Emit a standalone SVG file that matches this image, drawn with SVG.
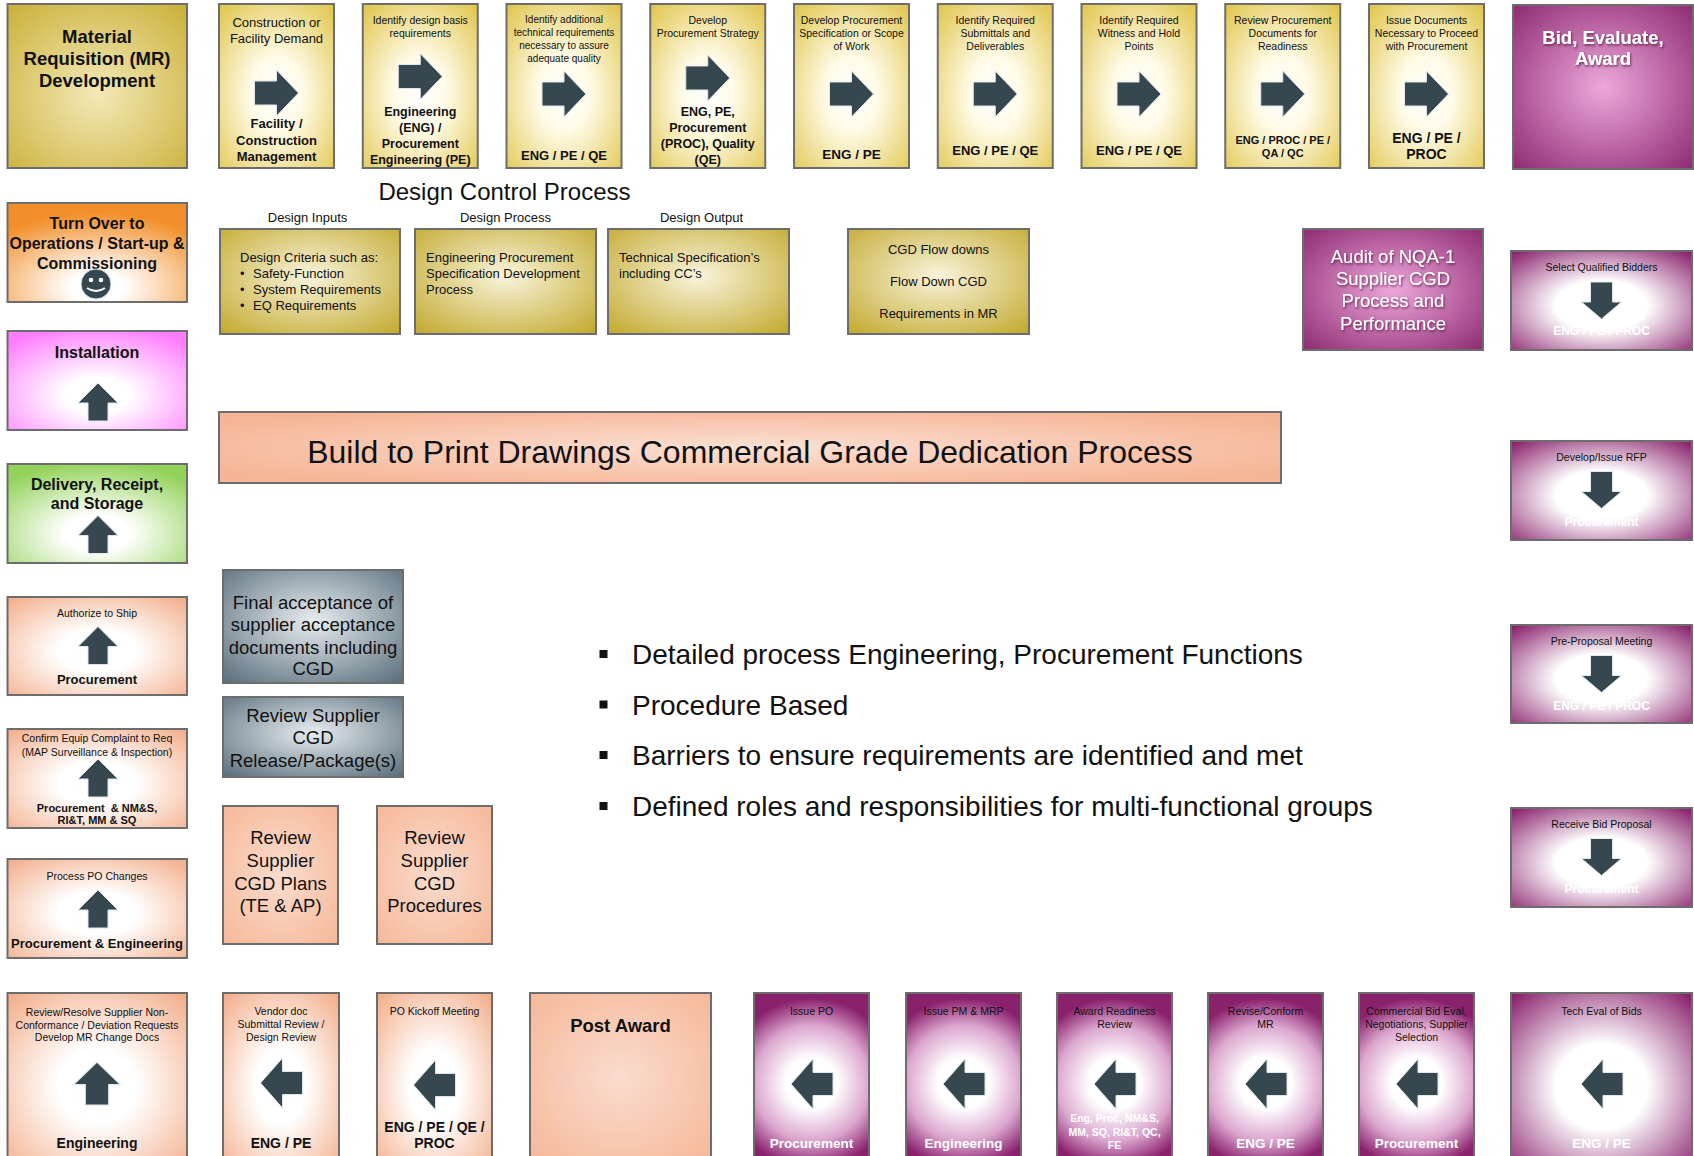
<svg xmlns="http://www.w3.org/2000/svg" xmlns:xlink="http://www.w3.org/1999/xlink" width="1694" height="1156" viewBox="0 0 1694 1156">
<defs>
<style>
text{font-family:'Liberation Sans',Arial,sans-serif;fill:#111;text-anchor:middle}
.s{font-size:10.5px}
.m{font-size:13px}
.b{font-weight:bold}
.w{fill:#fff}
.box{stroke:#6d6d6d;stroke-width:2}
.arr{fill:#37474F;stroke:#dfe7ec;stroke-width:1}
.big{font-size:18.5px}
.l{text-anchor:start}
</style>
<radialGradient id="gY" cx="0.5" cy="0.55" r="0.75"><stop offset="0" stop-color="#ffffff"/><stop offset="0.3" stop-color="#fffbe8"/><stop offset="1" stop-color="#dfc345"/></radialGradient>
<radialGradient id="gMR" cx="0.5" cy="0.55" r="0.72"><stop offset="0" stop-color="#f3e9b8"/><stop offset="1" stop-color="#cbb13a"/></radialGradient>
<radialGradient id="gG" cx="0.5" cy="0.45" r="0.72"><stop offset="0" stop-color="#f8f4dc"/><stop offset="1" stop-color="#c3aa30"/></radialGradient>
<radialGradient id="gP" cx="0.5" cy="0.55" r="0.72"><stop offset="0" stop-color="#ffffff"/><stop offset="0.35" stop-color="#ffffff"/><stop offset="1" stop-color="#8a216d"/></radialGradient>
<radialGradient id="gPT" cx="0.5" cy="0.53" r="0.74" gradientTransform="translate(0.5,0.53) scale(1,0.676) translate(-0.5,-0.53)"><stop offset="0" stop-color="#ffffff"/><stop offset="0.3" stop-color="#ffffff"/><stop offset="0.68" stop-color="#dba6ce"/><stop offset="1" stop-color="#8a216d"/></radialGradient>
<radialGradient id="gPB" cx="0.5" cy="0.5" r="0.72"><stop offset="0" stop-color="#eca8da"/><stop offset="1" stop-color="#8d2870"/></radialGradient>
<radialGradient id="gS" cx="0.5" cy="0.55" r="0.72"><stop offset="0" stop-color="#ffffff"/><stop offset="0.3" stop-color="#ffffff"/><stop offset="1" stop-color="#f3ae8b"/></radialGradient>
<radialGradient id="gSB" cx="0.5" cy="0.5" r="0.72"><stop offset="0" stop-color="#fadcce"/><stop offset="1" stop-color="#f6b797"/></radialGradient>
<radialGradient id="gBuild" cx="0.5" cy="0.5" r="0.6"><stop offset="0" stop-color="#fbe0d3"/><stop offset="1" stop-color="#f6b596"/></radialGradient>
<radialGradient id="gSl" cx="0.5" cy="0.45" r="0.75"><stop offset="0" stop-color="#e7edf0"/><stop offset="1" stop-color="#566a78"/></radialGradient>
<radialGradient id="gO" cx="0.5" cy="0.85" r="0.75"><stop offset="0" stop-color="#ffffff"/><stop offset="0.2" stop-color="#ffffff"/><stop offset="1" stop-color="#f28f2a"/></radialGradient>
<radialGradient id="gM" cx="0.5" cy="0.65" r="0.72"><stop offset="0" stop-color="#ffffff"/><stop offset="0.25" stop-color="#ffffff"/><stop offset="1" stop-color="#ff7cff"/></radialGradient>
<radialGradient id="gGr" cx="0.5" cy="0.7" r="0.72"><stop offset="0" stop-color="#ffffff"/><stop offset="0.25" stop-color="#ffffff"/><stop offset="1" stop-color="#93d25a"/></radialGradient>
<filter id="sh" x="-10%" y="-10%" width="120%" height="130%"><feDropShadow dx="1" dy="1.5" stdDeviation="0.8" flood-color="#3a0a2c" flood-opacity="0.7"/></filter>
<path id="arR" class="arr" d="M-22,-12 H0 V-23 L22,0 L0,23 V12 H-22 Z"/>
<path id="arL" class="arr" d="M21,-11.5 H1 V-25 L-21,0 L1,25 V11.5 H21 Z"/>
<path id="arU" class="arr" d="M-10,19 V1 H-20 L0,-19 L20,1 H10 V19 Z"/>
<path id="arD" class="arr" d="M-11,-18.5 H11 V1.5 H20 L0,18.5 L-20,1.5 H-11 Z"/>
</defs>
<rect width="1694" height="1156" fill="#ffffff"/>

<!-- Top row -->
<g id="mr-development">
<rect class="box" x="7.5" y="4" width="179.5" height="164" fill="url(#gMR)"/>
<text class="b" font-size="18.5" x="97" y="43">Material</text>
<text class="b" font-size="18.5" x="97" y="65">Requisition (MR)</text>
<text class="b" font-size="18.5" x="97" y="87">Development</text>
</g>
<g id="construction-demand">
<rect class="box" x="219" y="4" width="115" height="164" fill="url(#gY)"/>
<text class="m" x="276.5" y="26.5">Construction or</text>
<text class="m" x="276.5" y="42.5">Facility Demand</text>
<use href="#arR" x="276.5" y="93"/>
<text class="m b" x="276.5" y="127.5">Facility /</text>
<text class="m b" x="276.5" y="144.5">Construction</text>
<text class="m b" x="276.5" y="160.5">Management</text>
</g>
<g id="design-basis">
<rect class="box" x="362.75" y="4" width="115" height="164" fill="url(#gY)"/>
<text class="s" x="420.25" y="23.5">Identify design basis</text>
<text class="s" x="420.25" y="36.5">requirements</text>
<use href="#arR" x="420.25" y="76.5"/>
<text class="b" font-size="12.5" x="420.25" y="115.5">Engineering</text>
<text class="b" font-size="12.5" x="420.25" y="131.5">(ENG) /</text>
<text class="b" font-size="12.5" x="420.25" y="147.5">Procurement</text>
<text class="b" font-size="12.5" x="420.25" y="163.5">Engineering (PE)</text>
</g>
<g id="additional-requirements">
<rect class="box" x="506.5" y="4" width="115" height="164" fill="url(#gY)"/>
<text font-size="10" x="564" y="23">Identify additional</text>
<text font-size="10" x="564" y="36">technical requirements</text>
<text font-size="10" x="564" y="49">necessary to assure</text>
<text font-size="10" x="564" y="62">adequate quality</text>
<use href="#arR" x="564" y="94"/>
<text class="m b" x="564" y="159.5">ENG / PE / QE</text>
</g>
<g id="procurement-strategy">
<rect class="box" x="650.25" y="4" width="115" height="164" fill="url(#gY)"/>
<text class="s" x="707.75" y="23.5">Develop</text>
<text class="s" x="707.75" y="36.5">Procurement Strategy</text>
<use href="#arR" x="707.75" y="78"/>
<text class="b" font-size="12.5" x="707.75" y="115.5">ENG, PE,</text>
<text class="b" font-size="12.5" x="707.75" y="131.5">Procurement</text>
<text class="b" font-size="12.5" x="707.75" y="147.5">(PROC), Quality</text>
<text class="b" font-size="12.5" x="707.75" y="163.5">(QE)</text>
</g>
<g id="procurement-spec">
<rect class="box" x="794" y="4" width="115" height="164" fill="url(#gY)"/>
<text class="s" x="851.5" y="23.5">Develop Procurement</text>
<text class="s" x="851.5" y="36.5">Specification or Scope</text>
<text class="s" x="851.5" y="49.5">of Work</text>
<use href="#arR" x="851.5" y="94"/>
<text class="b" font-size="13.5" x="851.5" y="158.5">ENG / PE</text>
</g>
<g id="submittals">
<rect class="box" x="937.75" y="4" width="115" height="164" fill="url(#gY)"/>
<text class="s" x="995.25" y="23.5">Identify Required</text>
<text class="s" x="995.25" y="36.5">Submittals and</text>
<text class="s" x="995.25" y="49.5">Deliverables</text>
<use href="#arR" x="995.25" y="94"/>
<text class="m b" x="995.25" y="154.5">ENG / PE / QE</text>
</g>
<g id="witness-hold">
<rect class="box" x="1081.5" y="4" width="115" height="164" fill="url(#gY)"/>
<text class="s" x="1139" y="23.5">Identify Required</text>
<text class="s" x="1139" y="36.5">Witness and Hold</text>
<text class="s" x="1139" y="49.5">Points</text>
<use href="#arR" x="1139" y="94"/>
<text class="m b" x="1139" y="154.5">ENG / PE / QE</text>
</g>
<g id="review-readiness">
<rect class="box" x="1225.25" y="4" width="115" height="164" fill="url(#gY)"/>
<text class="s" x="1282.75" y="23.5">Review Procurement</text>
<text class="s" x="1282.75" y="36.5">Documents for</text>
<text class="s" x="1282.75" y="49.5">Readiness</text>
<use href="#arR" x="1282.75" y="94"/>
<text class="b" font-size="11" x="1282.75" y="144">ENG / PROC / PE /</text>
<text class="b" font-size="11" x="1282.75" y="157">QA / QC</text>
</g>
<g id="issue-documents">
<rect class="box" x="1369" y="4" width="115" height="164" fill="url(#gY)"/>
<text class="s" x="1426.5" y="23.5">Issue Documents</text>
<text class="s" x="1426.5" y="36.5">Necessary to Proceed</text>
<text class="s" x="1426.5" y="49.5">with Procurement</text>
<use href="#arR" x="1426.5" y="94"/>
<text class="b" font-size="14" x="1426.5" y="143">ENG / PE /</text>
<text class="b" font-size="14" x="1426.5" y="159">PROC</text>
</g>
<g id="bid-evaluate-award">
<rect class="box" x="1513" y="5" width="180" height="164" fill="url(#gPB)"/>
<text class="b w big" filter="url(#sh)" x="1603" y="44">Bid, Evaluate,</text>
<text class="b w big" filter="url(#sh)" x="1603" y="65">Award</text>
</g>

<!-- Design control -->
<g id="design-control-title">
<text font-size="24" x="504.5" y="200">Design Control Process</text>
<text font-size="13" x="307.5" y="222">Design Inputs</text>
<text font-size="13" x="505.5" y="222">Design Process</text>
<text font-size="13" x="701.5" y="222">Design Output</text>
</g>
<g id="design-inputs">
<rect class="box" x="220" y="229" width="180" height="105" fill="url(#gG)"/>
<text class="m l" x="240" y="262">Design Criteria such as:</text>
<text class="m l" x="240" y="278">•</text><text class="m l" x="253" y="278">Safety-Function</text>
<text class="m l" x="240" y="294">•</text><text class="m l" x="253" y="294">System Requirements</text>
<text class="m l" x="240" y="310">•</text><text class="m l" x="253" y="310">EQ Requirements</text>
</g>
<g id="design-process">
<rect class="box" x="415" y="229" width="181" height="105" fill="url(#gG)"/>
<text class="m l" x="426" y="262">Engineering Procurement</text>
<text class="m l" x="426" y="278">Specification Development</text>
<text class="m l" x="426" y="294">Process</text>
</g>
<g id="design-output">
<rect class="box" x="608" y="229" width="181" height="105" fill="url(#gG)"/>
<text class="m l" x="619" y="262">Technical Specification’s</text>
<text class="m l" x="619" y="278">including CC’s</text>
</g>
<g id="cgd-flowdowns">
<rect class="box" x="848" y="229" width="181" height="105" fill="url(#gG)"/>
<text class="m" x="938.5" y="253.5">CGD Flow downs</text>
<text class="m" x="938.5" y="285.5">Flow Down CGD</text>
<text class="m" x="938.5" y="317.5">Requirements in MR</text>
</g>
<g id="audit-nqa1">
<rect class="box" x="1303" y="229" width="180" height="121" fill="url(#gPB)"/>
<text class="w big" filter="url(#sh)" x="1393" y="263">Audit of NQA-1</text>
<text class="w big" filter="url(#sh)" x="1393" y="285">Supplier CGD</text>
<text class="w big" filter="url(#sh)" x="1393" y="307">Process and</text>
<text class="w big" filter="url(#sh)" x="1393" y="330">Performance</text>
</g>

<!-- Build banner -->
<g id="build-to-print">
<rect class="box" x="219" y="412" width="1062" height="71" fill="url(#gBuild)"/>
<text font-size="32" x="750" y="463">Build to Print Drawings Commercial Grade Dedication Process</text>
</g>

<!-- Bullets -->
<g id="bullets">
<rect x="599.5" y="650" width="8" height="8" fill="#111"/>
<text class="l" font-size="28" x="632" y="664">Detailed process Engineering, Procurement Functions</text>
<rect x="599.5" y="700.5" width="8" height="8" fill="#111"/>
<text class="l" font-size="28" x="632" y="714.5">Procedure Based</text>
<rect x="599.5" y="751" width="8" height="8" fill="#111"/>
<text class="l" font-size="28" x="632" y="765">Barriers to ensure requirements are identified and met</text>
<rect x="599.5" y="802" width="8" height="8" fill="#111"/>
<text class="l" font-size="28" x="632" y="816">Defined roles and responsibilities for multi-functional groups</text>
</g>

<!-- Left column -->
<g id="turn-over">
<rect class="box" x="7.5" y="203" width="179.5" height="99" fill="url(#gO)"/>
<text class="b" font-size="16" x="97" y="229">Turn Over to</text>
<text class="b" font-size="16" x="97" y="249">Operations / Start-up &amp;</text>
<text class="b" font-size="16" x="97" y="269">Commissioning</text>
<circle cx="96" cy="284" r="15" fill="#37474F" stroke="#dfe7ec" stroke-width="1"/>
<circle cx="91" cy="280" r="2.3" fill="#fff"/>
<circle cx="101" cy="280" r="2.3" fill="#fff"/>
<path d="M87,288 Q96,294 105,288" fill="none" stroke="#fff" stroke-width="2"/>
</g>
<g id="installation">
<rect class="box" x="7.5" y="331" width="179.5" height="99" fill="url(#gM)"/>
<text class="b" font-size="16" x="97" y="358">Installation</text>
<use href="#arU" x="98" y="402"/>
</g>
<g id="delivery-receipt">
<rect class="box" x="7.5" y="464" width="179.5" height="99" fill="url(#gGr)"/>
<text class="b" font-size="16" x="97" y="490">Delivery, Receipt,</text>
<text class="b" font-size="16" x="97" y="509">and Storage</text>
<use href="#arU" x="98" y="534.5"/>
</g>
<g id="authorize-ship">
<rect class="box" x="7.5" y="597" width="179.5" height="98" fill="url(#gS)"/>
<text class="s" x="97" y="617">Authorize to Ship</text>
<use href="#arU" x="98" y="645.5"/>
<text class="m b" x="97" y="683.5">Procurement</text>
</g>
<g id="confirm-equip">
<rect class="box" x="7.5" y="729" width="179.5" height="99" fill="url(#gS)"/>
<text class="s" x="97" y="742">Confirm Equip Complaint to Req</text>
<text class="s" x="97" y="756">(MAP Surveillance &amp; Inspection)</text>
<use href="#arU" x="98" y="778"/>
<text class="b" font-size="11" x="97" y="812" xml:space="preserve">Procurement  &amp; NM&amp;S,</text>
<text class="b" font-size="11" x="97" y="824">RI&amp;T, MM &amp; SQ</text>
</g>
<g id="process-po-changes">
<rect class="box" x="7.5" y="859" width="179.5" height="99" fill="url(#gS)"/>
<text class="s" x="97" y="880">Process PO Changes</text>
<use href="#arU" x="98" y="909"/>
<text class="m b" x="97" y="947.5">Procurement &amp; Engineering</text>
</g>

<!-- Middle review boxes -->
<g id="final-acceptance">
<rect class="box" x="223" y="570" width="180" height="113" fill="url(#gSl)"/>
<text class="big" x="313" y="609">Final acceptance of</text>
<text class="big" x="313" y="631">supplier acceptance</text>
<text class="big" x="313" y="654">documents including</text>
<text class="big" x="313" y="675">CGD</text>
</g>
<g id="review-release">
<rect class="box" x="223" y="697" width="180" height="80" fill="url(#gSl)"/>
<text class="big" x="313" y="722">Review Supplier</text>
<text class="big" x="313" y="744">CGD</text>
<text class="big" x="313" y="767">Release/Package(s)</text>
</g>
<g id="review-plans">
<rect class="box" x="223" y="806" width="115" height="138" fill="url(#gSB)"/>
<text class="big" x="280.5" y="844">Review</text>
<text class="big" x="280.5" y="867">Supplier</text>
<text class="big" x="280.5" y="890">CGD Plans</text>
<text class="big" x="280.5" y="912">(TE &amp; AP)</text>
</g>
<g id="review-procedures">
<rect class="box" x="377" y="806" width="115" height="138" fill="url(#gSB)"/>
<text class="big" x="434.5" y="844">Review</text>
<text class="big" x="434.5" y="867">Supplier</text>
<text class="big" x="434.5" y="890">CGD</text>
<text class="big" x="434.5" y="912">Procedures</text>
</g>

<!-- Right column -->
<g id="select-bidders">
<rect class="box" x="1511" y="251" width="181" height="99" fill="url(#gP)"/>
<text class="s" x="1601.5" y="271">Select Qualified Bidders</text>
<text class="w b" font-size="12" x="1601.5" y="335">ENG / PE / PROC</text>
<use href="#arD" x="1601.5" y="300.5"/>
</g>
<g id="issue-rfp">
<rect class="box" x="1511" y="441" width="181" height="99" fill="url(#gP)"/>
<text class="s" x="1601.5" y="461">Develop/Issue RFP</text>
<text class="w b" font-size="12" x="1601.5" y="526">Procurement</text>
<use href="#arD" x="1601.5" y="490"/>
</g>
<g id="pre-proposal">
<rect class="box" x="1511" y="625" width="181" height="98" fill="url(#gP)"/>
<text class="s" x="1601.5" y="645">Pre-Proposal Meeting</text>
<text class="w b" font-size="12" x="1601.5" y="710">ENG / PE / PROC</text>
<use href="#arD" x="1601.5" y="674"/>
</g>
<g id="receive-bid">
<rect class="box" x="1511" y="808" width="181" height="99" fill="url(#gP)"/>
<text class="s" x="1601.5" y="828">Receive Bid Proposal</text>
<text class="w b" font-size="12" x="1601.5" y="893">Procurement</text>
<use href="#arD" x="1601.5" y="857"/>
</g>

<!-- Bottom row -->
<g id="resolve-nonconformance">
<rect class="box" x="7.5" y="993" width="179.5" height="170" fill="url(#gS)"/>
<text class="s" x="97" y="1016">Review/Resolve Supplier Non-</text>
<text class="s" x="97" y="1028.5">Conformance / Deviation Requests</text>
<text class="s" x="97" y="1041">Develop MR Change Docs</text>
<use href="#arU" transform="translate(97,1083.5) scale(1.17,1.13)"/>
<text class="b" font-size="14" x="97" y="1148">Engineering</text>
</g>
<g id="vendor-doc-review">
<rect class="box" x="223" y="993" width="116" height="170" fill="url(#gS)"/>
<text class="s" x="281" y="1015">Vendor doc</text>
<text class="s" x="281" y="1028">Submittal Review /</text>
<text class="s" x="281" y="1041">Design Review</text>
<use href="#arL" x="281.5" y="1083"/>
<text class="b" font-size="14" x="281" y="1148">ENG / PE</text>
</g>
<g id="po-kickoff">
<rect class="box" x="377" y="993" width="115" height="170" fill="url(#gS)"/>
<text class="s" x="434.5" y="1015">PO Kickoff Meeting</text>
<use href="#arL" x="434.5" y="1085"/>
<text class="b" font-size="14" x="434.5" y="1132">ENG / PE / QE /</text>
<text class="b" font-size="14" x="434.5" y="1148">PROC</text>
</g>
<g id="post-award">
<rect class="box" x="530" y="993" width="181" height="170" fill="url(#gSB)"/>
<text class="b big" x="620.5" y="1031.5">Post Award</text>
</g>
<g id="issue-po">
<rect class="box" x="754" y="993" width="115" height="170" fill="url(#gPT)"/>
<text class="s" x="811.5" y="1015">Issue PO</text>
<use href="#arL" x="812" y="1084"/>
<text class="w b" font-size="13.5" x="811.5" y="1148">Procurement</text>
</g>
<g id="issue-pm-mrp">
<rect class="box" x="906" y="993" width="115" height="170" fill="url(#gPT)"/>
<text class="s" x="963.5" y="1015">Issue PM &amp; MRP</text>
<use href="#arL" x="964" y="1084"/>
<text class="w b" font-size="13.5" x="963.5" y="1148">Engineering</text>
</g>
<g id="award-readiness">
<rect class="box" x="1057" y="993" width="115" height="170" fill="url(#gPT)"/>
<text class="s" x="1114.5" y="1015">Award Readiness</text>
<text class="s" x="1114.5" y="1028">Review</text>
<use href="#arL" x="1115" y="1084"/>
<text class="w b" font-size="10.5" x="1114.5" y="1122">Eng, Proc, NM&amp;S,</text>
<text class="w b" font-size="10.5" x="1114.5" y="1136">MM, SQ, RI&amp;T, QC,</text>
<text class="w b" font-size="10.5" x="1114.5" y="1149">FE</text>
</g>
<g id="revise-mr">
<rect class="box" x="1208" y="993" width="115" height="170" fill="url(#gPT)"/>
<text class="s" x="1265.5" y="1015">Revise/Conform</text>
<text class="s" x="1265.5" y="1028">MR</text>
<use href="#arL" x="1266" y="1084"/>
<text class="w b" font-size="13.5" x="1265.5" y="1148">ENG / PE</text>
</g>
<g id="commercial-eval">
<rect class="box" x="1359" y="993" width="115" height="170" fill="url(#gPT)"/>
<text class="s" x="1416.5" y="1015">Commercial Bid Eval,</text>
<text class="s" x="1416.5" y="1028">Negotiations, Supplier</text>
<text class="s" x="1416.5" y="1041">Selection</text>
<use href="#arL" x="1417" y="1084"/>
<text class="w b" font-size="13.5" x="1416.5" y="1148">Procurement</text>
</g>
<g id="tech-eval">
<rect class="box" x="1511" y="993" width="181" height="170" fill="url(#gP)"/>
<text class="s" x="1601.5" y="1015">Tech Eval of Bids</text>
<use href="#arL" x="1602" y="1084"/>
<text class="w b" font-size="13.5" x="1601.5" y="1148">ENG / PE</text>
</g>

<g id="connectors"></g>
</svg>
